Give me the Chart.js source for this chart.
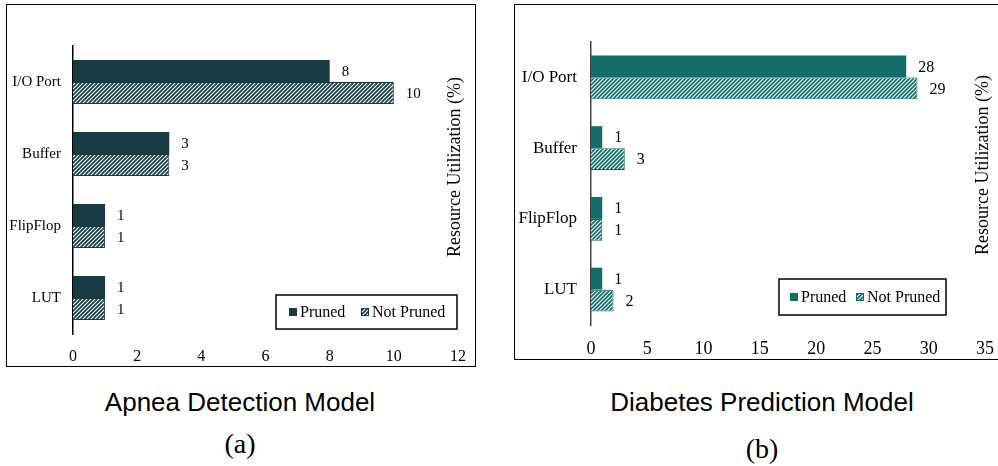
<!DOCTYPE html>
<html>
<head>
<meta charset="utf-8">
<script src="https://cdn.jsdelivr.net/npm/chart.js@4"></script>
<style>
  html, body { margin: 0; padding: 0; background: #fff; overflow: hidden; }
  body { width: 998px; height: 466px; position: relative; }
  .frame { position: absolute; border: 1px solid #000; background: #fff; }
  .frame canvas { position: absolute; left: 0; top: 0; }
  .caption { position: absolute; text-align: center; color: #000; white-space: nowrap; }
  .model { font-family: "Liberation Sans", Arial, sans-serif; font-size: 26px; line-height: 26px; }
  .tag { font-family: "Liberation Serif", "Times New Roman", serif; font-size: 28px; line-height: 28px; }
</style>
</head>
<body>
<div class="frame" id="frameA" style="left:6px; top:4px; width:468px; height:361px;">
  <canvas id="chartA" width="468" height="361" style="width:468px;height:361px;"></canvas>
</div>
<div class="frame" id="frameB" style="left:514px; top:4px; width:500px; height:354px;">
  <canvas id="chartB" width="483" height="354" style="width:483px;height:354px;"></canvas>
</div>

<div class="caption model" style="left:40px; width:400px; top:389px;">Apnea Detection Model</div>
<div class="caption tag" style="left:190px; width:100px; top:430px;">(a)</div>
<div class="caption model" style="left:562px; width:400px; top:389px;">Diabetes Prediction Model</div>
<div class="caption tag" style="left:712px; width:100px; top:435px;">(b)</div>

<script>
// Hardware resources on the FPGA (category axis)
const resources = ['I/O Port', 'Buffer', 'FlipFlop', 'LUT'];
const seriesNames = ['Pruned', 'Not Pruned'];

// Apnea detection model, resource utilization (%)
const apneaPruned    = [8, 3, 1, 1];
const apneaNotPruned = [10, 3, 1, 1];

// Diabetes prediction model, resource utilization (%)
const diabetesPruned    = [28, 1, 1, 1];
const diabetesNotPruned = [29, 3, 1, 2];

// Value axis ticks
const apneaTicks    = [0, 2, 4, 6, 8, 10, 12];
const diabetesTicks = [0, 5, 10, 15, 20, 25, 30, 35];

const SERIF = '"Liberation Serif", "Times New Roman", serif';

// Diagonal "/" hatch fill used for the unpruned series
function hatch(color) {
  const c = document.createElement('canvas');
  c.width = 4; c.height = 4;
  const g = c.getContext('2d');
  g.fillStyle = '#ffffff';
  g.fillRect(0, 0, 4, 4);
  g.strokeStyle = color;
  g.lineWidth = 1.7;
  g.beginPath();
  g.moveTo(-1, 5); g.lineTo(5, -1);
  g.moveTo(-1, 1); g.lineTo(1, -1);
  g.moveTo(3, 5); g.lineTo(5, 3);
  g.stroke();
  return g.createPattern(c, 'repeat');
}

// Draws value labels, the right-hand rotated axis title and the boxed legend
const decorations = {
  id: 'decorations',
  afterDatasetsDraw(chart, args, opts) {
    const ctx = chart.ctx;
    ctx.save();
    // value labels at the end of each bar
    ctx.fillStyle = '#000';
    ctx.font = opts.valueFont + 'px ' + SERIF;
    ctx.textAlign = 'left';
    ctx.textBaseline = 'middle';
    chart.data.datasets.forEach((ds, i) => {
      chart.getDatasetMeta(i).data.forEach((bar, j) => {
        ctx.fillText(String(ds.data[j]), bar.x + 12, bar.y + 1);
      });
    });
    // rotated title
    ctx.save();
    ctx.translate(opts.titleX, opts.titleY);
    ctx.rotate(-Math.PI / 2);
    ctx.font = opts.titleFont + 'px ' + SERIF;
    ctx.textAlign = 'center';
    ctx.textBaseline = 'middle';
    ctx.fillText('Resource Utilization (%)', 0, 0);
    ctx.restore();
    // legend
    const L = opts.legend;
    ctx.fillStyle = '#fff';
    ctx.fillRect(L.x, L.y, L.w, L.h);
    ctx.strokeStyle = '#000';
    ctx.lineWidth = 1.5;
    ctx.strokeRect(L.x, L.y, L.w, L.h);
    ctx.font = L.font + 'px ' + SERIF;
    ctx.textBaseline = 'middle';
    ctx.textAlign = 'left';
    const cy = L.y + L.h / 2;
    chart.data.datasets.forEach((ds, i) => {
      const sx = L.items[i];
      ctx.fillStyle = ds.backgroundColor;
      ctx.fillRect(sx, cy - 4, 8, 8);
      if (i === 1) {
        ctx.strokeStyle = ds.borderColor;
        ctx.lineWidth = 1;
        ctx.strokeRect(sx + 0.5, cy - 3.5, 7, 7);
      }
      ctx.fillStyle = '#000';
      ctx.fillText(ds.label, sx + 11, cy + 1);
    });
    ctx.restore();
  }
};

function makeChart(id, cfg) {
  const color = cfg.color;
  return new Chart(document.getElementById(id), {
    type: 'bar',
    data: {
      labels: resources,
      datasets: [
        { label: seriesNames[0], data: cfg.pruned, backgroundColor: color,
          borderColor: color, borderWidth: 0 },
        { label: seriesNames[1], data: cfg.notPruned, backgroundColor: hatch(color),
          borderColor: color, borderWidth: 1 }
      ]
    },
    options: {
      indexAxis: 'y',
      responsive: false,
      animation: false,
      events: [],
      datasets: { bar: { categoryPercentage: cfg.catPct, barPercentage: 1 } },
      layout: { padding: { top: cfg.top, right: cfg.right, left: 0, bottom: 0 } },
      scales: {
        x: {
          min: 0, max: cfg.ticks[cfg.ticks.length - 1],
          afterBuildTicks: s => { s.ticks = cfg.ticks.map(v => ({ value: v })); },
          grid: { display: false, drawTicks: false },
          border: { display: false },
          ticks: { color: '#000', padding: cfg.xPad, font: { family: SERIF, size: cfg.tickFont } },
          afterFit: s => { s.height = cfg.xHeight; s.paddingLeft = 0; s.paddingRight = 0; }
        },
        y: {
          grid: { display: false, drawTicks: false },
          border: { display: true, color: cfg.axisColor, width: 1.5 },
          ticks: { color: '#000', padding: cfg.yPad, font: { family: SERIF, size: cfg.catFont } },
          afterFit: s => { s.width = cfg.yWidth; }
        }
      },
      plugins: {
        legend: { display: false },
        tooltip: { enabled: false },
        decorations: cfg.deco
      }
    },
    plugins: [decorations]
  });
}

makeChart('chartA', {
  color: '#173a45',
  pruned: apneaPruned, notPruned: apneaNotPruned, ticks: apneaTicks,
  catPct: 0.61, top: 41, right: 17, xHeight: 32, yWidth: 66,
  xPad: 13, yPad: 12, tickFont: 16, catFont: 15, axisColor: '#000',
  deco: {
    valueFont: 15, titleFont: 18, titleX: 448, titleY: 162,
    legend: { x: 269, y: 290, w: 181, h: 34, font: 16, items: [282, 354] }
  }
});

makeChart('chartB', {
  color: '#136b6a',
  pruned: diabetesPruned, notPruned: diabetesNotPruned, ticks: diabetesTicks,
  catPct: 0.62, top: 37, right: 13, xHeight: 34, yWidth: 76,
  xPad: 13, yPad: 14, tickFont: 18, catFont: 17, axisColor: '#444',
  deco: {
    valueFont: 16, titleFont: 18, titleX: 468, titleY: 160,
    legend: { x: 264, y: 274, w: 167, h: 36, font: 16, items: [275, 341] }
  }
});
</script>
</body>
</html>
